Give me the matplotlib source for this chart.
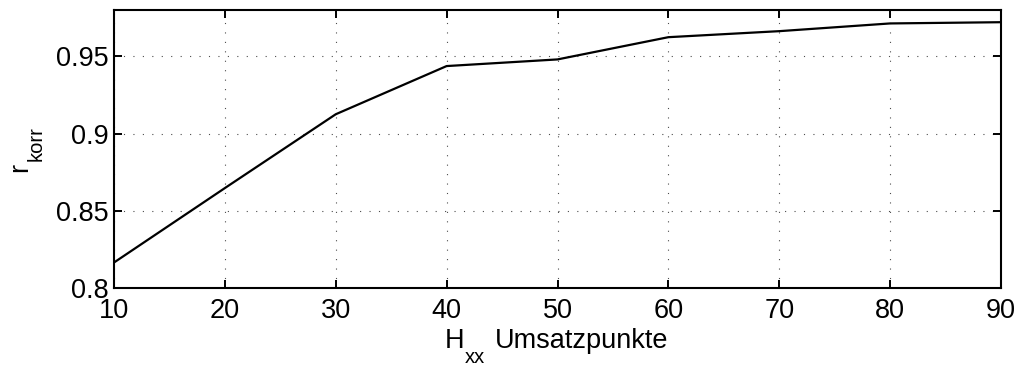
import matplotlib
matplotlib.use("Agg")
import matplotlib.pyplot as plt

# Korrelationskoeffizient ueber Anzahl der Umsatzpunkte
umsatzpunkte = [10, 20, 30, 40, 50, 60, 70, 80, 90]
r_korr = [0.8165, 0.8647, 0.9125, 0.9437, 0.948, 0.9624, 0.9663, 0.9713, 0.9721]

x_ticks = [10, 20, 30, 40, 50, 60, 70, 80, 90]
y_ticks = [0.8, 0.85, 0.9, 0.95]
y_ticklabels = ["0.8", "0.85", "0.9", "0.95"]

plt.rcParams["font.family"] = ["Liberation Sans", "DejaVu Sans"]

W, H = 1019, 365
fig = plt.figure(figsize=(W / 100, H / 100), dpi=100)
ax = fig.add_axes([114 / W, 1 - 288 / H, (1001 - 114) / W, (288 - 10) / H])

ax.plot(umsatzpunkte, r_korr, color="black", lw=1.6)

ax.set_xlim(10, 90)
ax.set_ylim(0.8, 0.98)
ax.set_xticks(x_ticks)
ax.set_yticks(y_ticks)
ax.set_yticklabels(y_ticklabels)
ax.tick_params(direction="in", length=6, width=1.4, top=True, right=True,
               labelsize=19.5)
ax.tick_params(axis="x", pad=7.5)
ax.tick_params(axis="y", pad=4)
for s in ax.spines.values():
    s.set_linewidth(1.5)
ax.grid(True, color="black", linestyle=(0, (1, 7.5)), linewidth=0.8, alpha=0.7)


def px(x, y):
    return x / W, 1 - y / H


# Achsenbeschriftungen mit tief gestelltem Index (Matlab-Stil)
fs, fs_sub = 19.5, 14.5
fig.text(*px(445, 348), "H", fontsize=fs, ha="left", va="baseline")
fig.text(*px(465, 363), "xx", fontsize=fs_sub, ha="left", va="baseline")
fig.text(*px(495, 348), "Umsatzpunkte", fontsize=fs, ha="left", va="baseline")

fig.text(*px(27, 172), "r", fontsize=fs, rotation=90, rotation_mode="anchor",
         ha="left", va="baseline")
fig.text(*px(42, 161), "korr", fontsize=fs_sub, rotation=90,
         rotation_mode="anchor", ha="left", va="baseline")

fig.savefig("out.png", dpi=100)
